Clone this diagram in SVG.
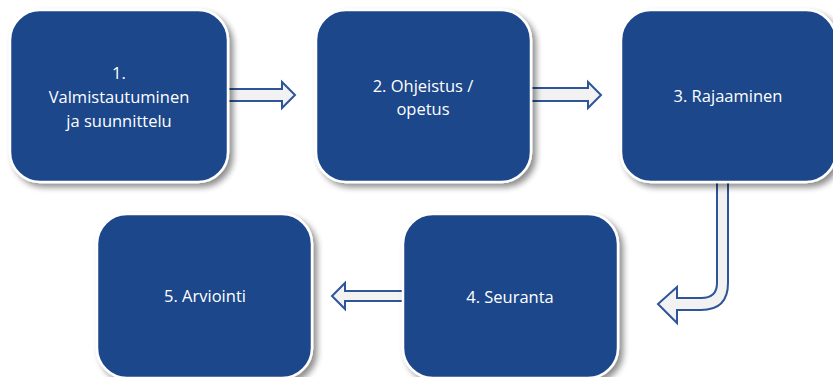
<svg xmlns="http://www.w3.org/2000/svg" width="833" height="377" viewBox="0 0 833 377">
<defs>
<filter id="sh" x="-10%" y="-10%" width="130%" height="130%">
<feGaussianBlur in="SourceAlpha" stdDeviation="3"/>
<feOffset dx="4" dy="4" result="b"/>
<feComponentTransfer><feFuncA type="linear" slope="0.45"/></feComponentTransfer>
<feMerge><feMergeNode/><feMergeNode in="SourceGraphic"/></feMerge>
</filter>
</defs>
<style>
.box{fill:#1b478b;stroke:#ffffff;stroke-width:2.5;filter:url(#sh)}
.lbl{fill:#ffffff;font-family:"Open Sans","Noto Sans",sans-serif;font-size:16.5px;text-anchor:middle}
.arr{fill:#f2f2f2;stroke:#2e5597;stroke-width:2;stroke-linejoin:miter}
</style>
<rect width="833" height="377" fill="#ffffff"/>
<g id="connectors">
<polygon class="arr" points="228,89 282,89 282,82 295,95 282,108 282,101 228,101"/>
<polygon class="arr" points="531,88 588,88 588,82 601,95 588,108 588,101 531,101"/>
<path class="arr" d="M717,182 L728,182 L728,283 Q728,310 701,310 L677,310 L677,323 L658,304 L677,287 L677,298 L701,298 Q717,298 717,283 Z"/>
<polygon class="arr" points="403,291 345,291 345,283 332,296 345,309 345,301 403,301"/>
</g>
<g id="node1">
<rect class="box" x="10" y="10" width="218" height="172" rx="30"/>
<text class="lbl" x="119" y="79">1.</text>
<text class="lbl" x="119" y="103">Valmistautuminen</text>
<text class="lbl" x="119" y="127">ja suunnittelu</text>
</g>
<g id="node2">
<rect class="box" x="316" y="10" width="215" height="172" rx="30"/>
<text class="lbl" x="423" y="92">2. Ohjeistus /</text>
<text class="lbl" x="423" y="115">opetus</text>
</g>
<g id="node3">
<rect class="box" x="621" y="10" width="215" height="172" rx="30"/>
<text class="lbl" x="728" y="102">3. Rajaaminen</text>
</g>
<g id="node4">
<rect class="box" x="403" y="214" width="215" height="164" rx="30"/>
<text class="lbl" x="510" y="303">4. Seuranta</text>
</g>
<g id="node5">
<rect class="box" x="97" y="214" width="215" height="164" rx="30"/>
<text class="lbl" x="205" y="302">5. Arviointi</text>
</g>
</svg>
